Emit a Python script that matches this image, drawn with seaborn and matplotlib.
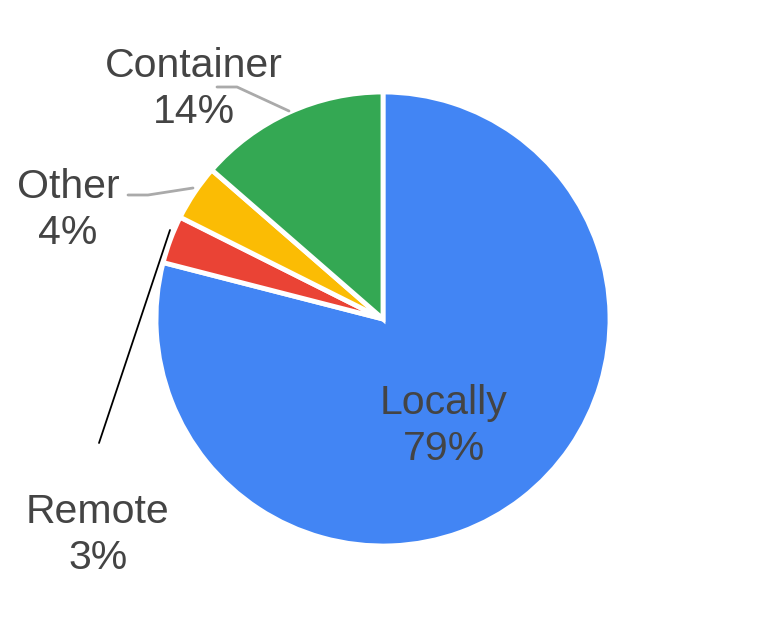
import matplotlib
matplotlib.use("Agg")
import matplotlib.pyplot as plt
import seaborn as sns

categories = ["Locally", "Remote", "Other", "Container"]
values = [79.0, 3.4, 4.0, 13.6]
colors = ["#4285F4", "#EA4335", "#FBBC04", "#34A853"]

sns.set_theme(style="white")
plt.rcParams['font.family'] = ['Liberation Sans', 'DejaVu Sans']

W, H = 765, 639
fig = plt.figure(figsize=(W / 100, H / 100), dpi=100)
ax = fig.add_axes([0, 0, 1, 1])
ax.set_xlim(0, W)
ax.set_ylim(0, H)
ax.set_aspect('equal')
ax.axis('off')

cx, cy, r = 383, H - 319, 227
ax.pie(values, colors=colors, startangle=90, counterclock=False,
       center=(cx, cy), radius=r, frame=True,
       wedgeprops=dict(edgecolor='white', linewidth=3.5))
ax.set_xlim(0, W)
ax.set_ylim(0, H)
ax.axis('off')

total = sum(values)
labels = [f"{c}\n{round(v / total * 100):.0f}%" for c, v in zip(categories, values)]
txt = dict(fontsize=29.5, color='#444444', ha='center', va='center', linespacing=1.27)

# label positions in pixels (x, y from top)
pos = {"Locally": (444, 426), "Remote": (98, 535), "Other": (68, 210), "Container": (194, 89)}
for c, lab in zip(categories, labels):
    x, y = pos[c]
    ax.text(x, H - y, lab, **txt)

# leader lines
ax.plot([217, 237, 289], [H - 87, H - 87, H - 111], color='#aaaaaa', lw=2)
ax.plot([128, 148, 193], [H - 195, H - 195, H - 188], color='#aaaaaa', lw=2)
ax.plot([170, 99], [H - 230, H - 443], color='black', lw=1.3)

fig.savefig("out.png", dpi=100, facecolor='white')
